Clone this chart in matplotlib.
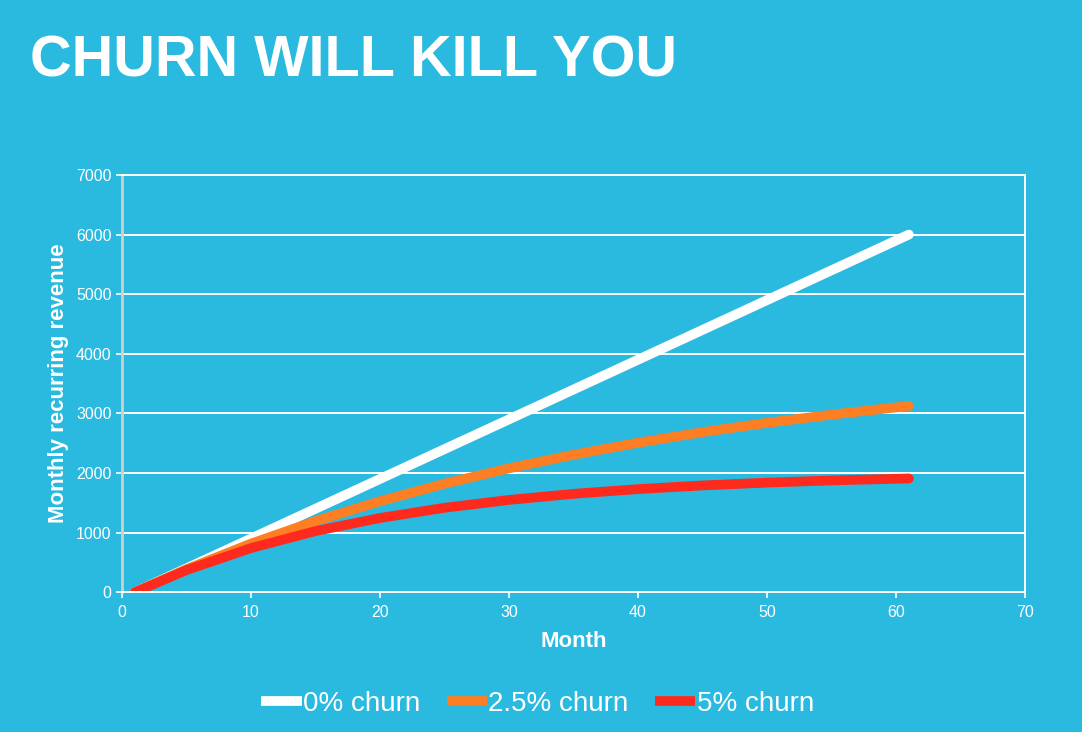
import matplotlib
matplotlib.use("Agg")
import matplotlib.pyplot as plt

plt.rcParams['font.family'] = ['Liberation Sans', 'DejaVu Sans']

BG = '#2abadf'

# months and revenue
months = [1, 5, 10, 15, 20, 25, 30, 35, 40, 45, 50, 55, 61]
churn_0 = [0, 400, 900, 1400, 1900, 2400, 2900, 3400, 3900, 4400, 4900, 5400, 6000]
churn_25 = [0, 385, 815, 1193, 1526, 1820, 2078, 2306, 2507, 2685, 2841, 2978, 3125]
churn_5 = [0, 371, 740, 1025, 1245, 1416, 1548, 1650, 1729, 1791, 1838, 1875, 1908]
series_labels = ['0% churn', '2.5% churn', '5% churn']
series_colors = ['#ffffff', '#fd7e23', '#ff2a1e']

fig = plt.figure(figsize=(10.82, 7.32), dpi=100, facecolor=BG)
ax = fig.add_axes([0.1128, 0.191, 0.8345, 0.570], facecolor=BG)

for ys, lab, col in zip([churn_0, churn_25, churn_5], series_labels, series_colors):
    ax.plot(months, ys, color=col, lw=7, solid_capstyle='round', label=lab)

ax.set_xlim(0, 70)
ax.set_ylim(0, 7000)
ax.set_xticks(range(0, 71, 10))
ax.set_yticks(range(0, 7001, 1000))
ax.grid(axis='y', color='white', lw=1.4)
ax.set_axisbelow(True)
for side in ['top', 'right', 'bottom']:
    ax.spines[side].set_color('white')
    ax.spines[side].set_linewidth(1.4)
ax.spines['left'].set_color('#d0d0d0')
ax.spines['left'].set_linewidth(2)
ax.tick_params(colors='white', labelsize=11.5, length=4, width=1.2)
ax.tick_params(axis='x', pad=5)

ax.set_xlabel('Month', color='white', fontsize=16, fontweight='bold', labelpad=8)
ax.set_ylabel('Monthly recurring revenue', color='white', fontsize=16,
              fontweight='bold', labelpad=5)

fig.text(0.028, 0.896, 'CHURN WILL KILL YOU', color='white', fontsize=41.5,
         fontweight='bold', va='baseline', ha='left')

leg = fig.legend(loc='center', bbox_to_anchor=(0.497, 0.038), ncol=3, frameon=False,
                 fontsize=20, handlelength=1.45, handletextpad=0.05,
                 columnspacing=0.95, labelcolor='white')
for h in leg.legend_handles:
    h.set_linewidth(7)
    h.set_solid_capstyle('butt')

fig.savefig('out.png', dpi=100, facecolor=BG)
